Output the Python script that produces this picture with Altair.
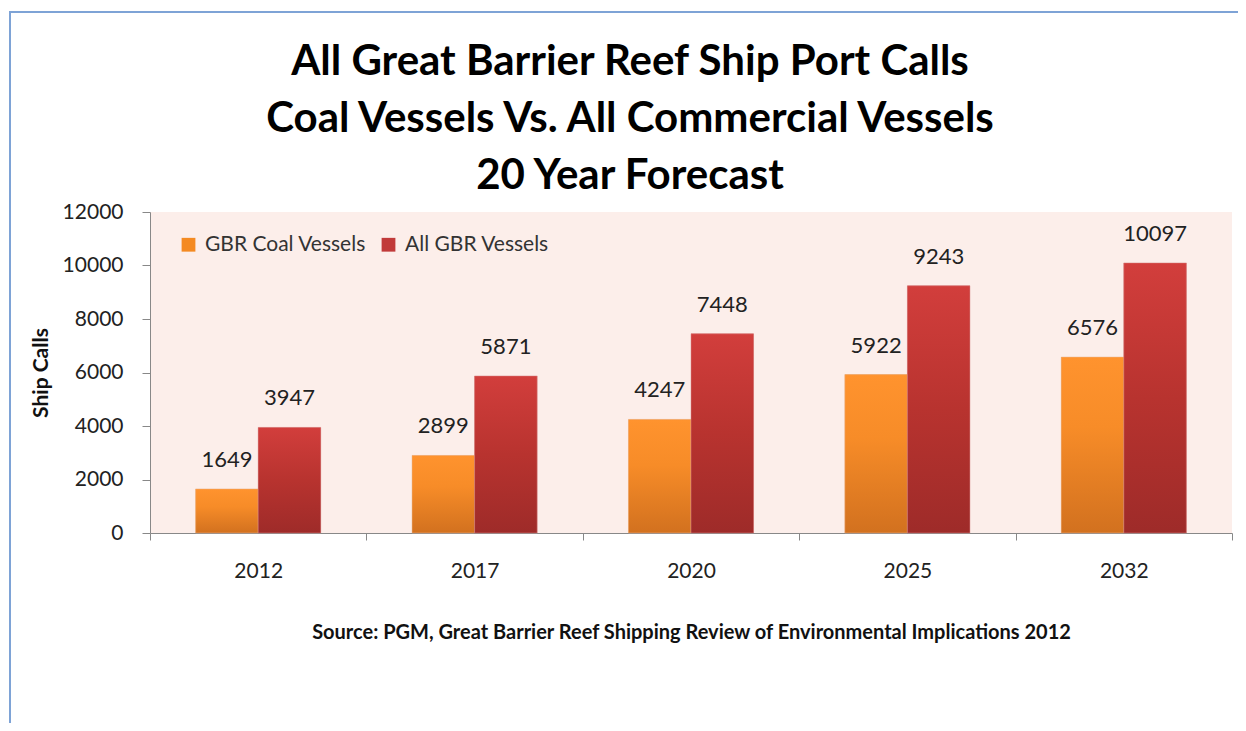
import altair as alt
import pandas as pd

years = ["2012", "2017", "2020", "2025", "2032"]
series_names = ["GBR Coal Vessels", "All GBR Vessels"]
coal_vessels = [1649, 2899, 4247, 5922, 6576]
all_vessels = [3947, 5871, 7448, 9243, 10097]
y_ticks = [0, 2000, 4000, 6000, 8000, 10000, 12000]

rows = []
for i, yr in enumerate(years):
    rows.append({"year": yr, "series": series_names[0], "calls": coal_vessels[i]})
    rows.append({"year": yr, "series": series_names[1], "calls": all_vessels[i]})
df = pd.DataFrame(rows)

FONT = "Lato"
ORANGE = "#F48A22"
RED = "#C13A39"

x_enc = alt.X("year:N", sort=years,
              scale=alt.Scale(paddingInner=0, paddingOuter=0),
              axis=alt.Axis(title="Source: PGM, Great Barrier Reef Shipping Review of Environmental Implications 2012",
                            titleFont=FONT, titleFontSize=20, titleFontWeight="bold",
                            titleColor="#111", titlePadding=41,
                            labelAngle=0, labelFont=FONT, labelFontSize=21, labelColor="#222",
                            labelPadding=20, tickSize=7, tickBand="extent",
                            domainColor="#888", tickColor="#888"))
xo_enc = alt.XOffset("series:N", sort=series_names,
                     scale=alt.Scale(domain=series_names, paddingInner=0, paddingOuter=0.73))
y_enc = alt.Y("calls:Q",
              scale=alt.Scale(domain=[0, 12000], nice=False),
              axis=alt.Axis(title="Ship Calls", values=y_ticks, format="d",
                            titleFont=FONT, titleFontSize=21, titleFontWeight="bold",
                            titleColor="#111", titlePadding=11,
                            labelFont=FONT, labelFontSize=21, labelColor="#222",
                            labelPadding=19, tickSize=8, grid=False,
                            domainColor="#888", tickColor="#888"))

base = alt.Chart(df)

legend_bars = base.mark_bar().encode(
    x=x_enc, xOffset=xo_enc, y=y_enc,
    color=alt.Color("series:N", sort=series_names,
                    scale=alt.Scale(domain=series_names, range=[ORANGE, RED]),
                    legend=alt.Legend(title=None, orient="none", legendX=28, legendY=22,
                                      direction="horizontal", symbolType="square",
                                      symbolSize=190, symbolStrokeWidth=0,
                                      labelFont=FONT, labelFontSize=21, labelColor="#333",
                                      labelLimit=400, columnPadding=12, labelOffset=6)),
)

coal_grad = alt.Gradient(gradient="linear", x1=0, x2=0, y1=0, y2=1,
                         stops=[alt.GradientStop(color="#FF932E", offset=0),
                                alt.GradientStop(color="#F78C28", offset=0.4),
                                alt.GradientStop(color="#D2711F", offset=1)])
all_grad = alt.Gradient(gradient="linear", x1=0, x2=0, y1=0, y2=1,
                        stops=[alt.GradientStop(color="#D23E3C", offset=0),
                               alt.GradientStop(color="#B8332F", offset=0.5),
                               alt.GradientStop(color="#9E2B29", offset=1)])

coal_bars = base.transform_filter(alt.datum.series == series_names[0]).mark_bar(
    fill=coal_grad, stroke="#E9B38C", strokeWidth=0.5).encode(x=x_enc, xOffset=xo_enc, y=y_enc)
all_bars = base.transform_filter(alt.datum.series == series_names[1]).mark_bar(
    fill=all_grad, stroke="#D98A88", strokeWidth=0.5).encode(x=x_enc, xOffset=xo_enc, y=y_enc)

labels = base.mark_text(baseline="bottom", dy=-17, font=FONT, fontSize=22, color="#222").encode(
    x=x_enc, xOffset=xo_enc, y=y_enc, text=alt.Text("calls:Q", format="d"))

border = alt.Chart(pd.DataFrame({"k": [0]})).mark_rect(
    fill="transparent", stroke="#7EA3D6", strokeWidth=2).encode(
    x=alt.value(-140), x2=alt.value(1400), y=alt.value(-200), y2=alt.value(900))

chart = alt.layer(legend_bars, coal_bars, all_bars, labels, border).properties(
    width=1082, height=321,
    autosize=alt.AutoSizeParams(type="none"),
    padding={"left": 142, "top": 204, "right": 6, "bottom": 190},
    title=alt.TitleParams(
        text=["All Great Barrier Reef Ship Port Calls",
              "Coal Vessels Vs. All Commercial Vessels",
              "20 Year Forecast"],
        font=FONT, fontSize=42, fontWeight="bold", color="#000",
        anchor="middle", dx=-61, offset=-187, lineHeight=57),
).configure_view(fill="#FCEEEA", stroke=None)

chart.save("out.html", embed_options={"renderer": "svg", "actions": False})
